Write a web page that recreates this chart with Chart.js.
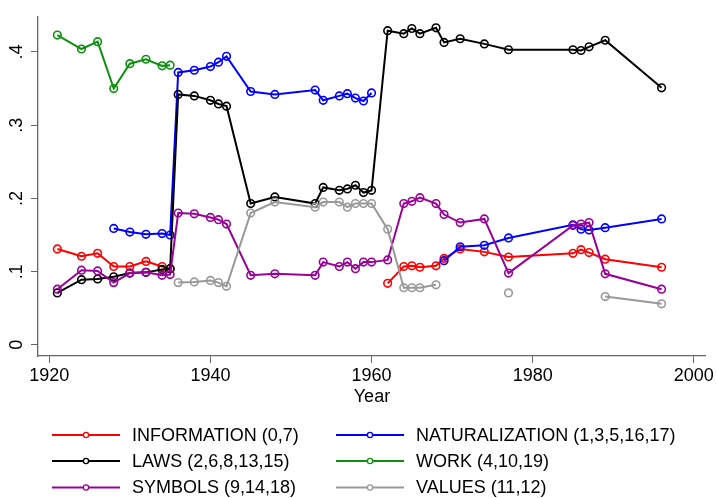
<!DOCTYPE html>
<html>
<head>
<meta charset="utf-8">
<script src="https://cdn.jsdelivr.net/npm/chart.js@4/dist/chart.umd.min.js"></script>
<style>
  html, body { margin: 0; padding: 0; background: #fff; }
  #wrap { width: 716px; height: 498px; position: relative; }
</style>
</head>
<body>
<div id="wrap"><canvas id="chart"></canvas></div>
<script>
/* Years on the x axis (one row per year, null = missing) */
const years = [1921, 1924, 1926, 1928, 1930, 1932, 1934, 1935, 1936, 1938, 1940, 1941, 1942,
    1945, 1948, 1953, 1954, 1956, 1957, 1958, 1959, 1960, 1962, 1964, 1965, 1966, 1968,
    1969, 1971, 1974, 1977, 1985, 1986, 1987, 1989, 1996];

const information = [0.131, 0.121, 0.125, 0.107, 0.107, 0.114, 0.107, 0.104,
    null, null, null, null, null, null, null, null, null, null, null, null, null, null,
    0.084, 0.107, 0.108, 0.106, 0.108,
    0.118, 0.131, 0.127, 0.120, 0.125, 0.130, 0.126, 0.117, 0.106];

const naturalization = [null, null, null, 0.159, 0.154, 0.151, 0.152, 0.150,
    0.372, 0.375, 0.380, 0.386, 0.394,
    0.346, 0.342, 0.348, 0.334, 0.340, 0.343, 0.337, 0.333, 0.344,
    null, null, null, null, null,
    0.115, 0.134, 0.136, 0.146, 0.164, 0.158, 0.157, 0.160, 0.172];

const laws = [0.071, 0.089, 0.090, 0.093, 0.098, 0.099, 0.103, 0.104,
    0.342, 0.340, 0.334, 0.329, 0.326,
    0.193, 0.202, 0.193, 0.215, 0.211, 0.213, 0.218, 0.208, 0.211,
    0.429, 0.425, 0.432, 0.425, 0.433,
    0.413, 0.418, 0.411, 0.403, 0.403, 0.402, 0.407, 0.416, 0.351];

const work = [0.423, 0.404, 0.414, 0.350, 0.384, 0.390, 0.381, 0.382,
    null, null, null, null, null, null, null, null, null, null, null, null, null, null,
    null, null, null, null, null, null, null, null, null, null, null, null, null, null];

const symbols = [0.076, 0.102, 0.101, 0.085, 0.098, 0.099, 0.095, 0.096,
    0.180, 0.179, 0.174, 0.171, 0.165,
    0.095, 0.097, 0.095, 0.113, 0.107, 0.113, 0.104, 0.113, 0.113,
    0.116, 0.193, 0.196, 0.201, 0.193,
    0.178, 0.167, 0.172, 0.098, 0.163, 0.165, 0.167, 0.097, 0.076];

const values = [null, null, null, null, null, null, null, null,
    0.085, 0.086, 0.088, 0.085, 0.080,
    0.180, 0.195, 0.188, 0.195, 0.195, 0.188, 0.193, 0.193, 0.193,
    0.158, 0.078, 0.078, 0.078, 0.082,
    null, null, null, 0.071, null, null, null, 0.066, 0.056];

const seriesLabels = ["INFORMATION (0,7)", "NATURALIZATION (1,3,5,16,17)", "LAWS (2,6,8,13,15)",
    "WORK (4,10,19)", "SYMBOLS (9,14,18)", "VALUES (11,12)"];
const seriesColors = ["#ff0000", "#0000ff", "#000000", "#0e900e", "#990099", "#999999"];

const xTicks = [1920, 1940, 1960, 1980, 2000];
const yTicks = [0, 0.1, 0.2, 0.3, 0.4];

const FONT = "'Liberation Sans', Arial, Helvetica, sans-serif";
const AXIS_COLOR = "#666";

/* Легенда: 2 колонки, 3 строки, под графиком */
const gridLegend = {
    id: "gridLegend",
    afterDraw(chart) {
        const ctx = chart.ctx;
        const base = chart.chartArea.bottom;
        const colX = [52, 336];
        const rowY = [base + 79, base + 105, base + 131.5];
        ctx.save();
        ctx.font = "18px " + FONT;
        ctx.textBaseline = "middle";
        ctx.textAlign = "left";
        chart.data.datasets.forEach((ds, i) => {
            const x = colX[i % 2];
            const y = rowY[Math.floor(i / 2)];
            ctx.strokeStyle = ds.borderColor;
            ctx.lineWidth = 2;
            ctx.beginPath();
            ctx.moveTo(x, y);
            ctx.lineTo(x + 68, y);
            ctx.stroke();
            ctx.fillStyle = "#fff";
            ctx.lineWidth = 1.3;
            ctx.beginPath();
            ctx.arc(x + 34, y, 2.6, 0, Math.PI * 2);
            ctx.fill();
            ctx.stroke();
            ctx.fillStyle = "#000";
            ctx.fillText(ds.label, x + 80, y + 1);
        });
        ctx.restore();
    }
};

const seriesData = [information, naturalization, laws, work, symbols, values];

const datasets = seriesData.map((arr, i) => ({
    label: seriesLabels[i],
    data: years.map((yr, j) => ({ x: yr, y: arr[j] })),
    borderColor: seriesColors[i],
    backgroundColor: seriesColors[i],
    borderWidth: 2,
    pointRadius: 3.8,
    pointBorderWidth: 1.6,
    pointBackgroundColor: "rgba(255,255,255,0)",
    pointBorderColor: seriesColors[i],
    spanGaps: false,
    tension: 0,
    order: seriesData.length - i
}));

new Chart(document.getElementById("chart"), {
    type: "line",
    data: { datasets: datasets },
    options: {
        responsive: true,
        maintainAspectRatio: false,
        animation: false,
        layout: { padding: { top: 12, right: 9, left: 0, bottom: 86 } },
        plugins: {
            legend: { display: false },
            tooltip: { enabled: false }
        },
        scales: {
            x: {
                type: "linear",
                min: 1918.6,
                max: 2001.5,
                afterBuildTicks: scale => { scale.ticks = xTicks.map(v => ({ value: v })); },
                afterFit: scale => { scale.height = 56; },
                ticks: {
                    color: "#000",
                    font: { family: FONT, size: 18 },
                    padding: 2,
                    maxRotation: 0,
                    callback: v => String(v)
                },
                grid: { display: true, drawOnChartArea: false, drawTicks: true, tickLength: 7, color: AXIS_COLOR, lineWidth: 1 },
                border: { display: true, color: AXIS_COLOR, width: 1.3 },
                title: {
                    display: true,
                    text: "Year",
                    color: "#000",
                    font: { family: FONT, size: 18 },
                    padding: { top: 0, bottom: 4 }
                }
            },
            y: {
                type: "linear",
                min: -0.0152,
                max: 0.448,
                afterBuildTicks: scale => { scale.ticks = yTicks.map(v => ({ value: v })); },
                afterFit: scale => { scale.width = 38; },
                ticks: {
                    color: "#000",
                    font: { family: FONT, size: 18 },
                    padding: 6,
                    minRotation: 90,
                    maxRotation: 90,
                    crossAlign: "center",
                    callback: v => (v === 0 ? "0" : String(Math.round(v * 10) / 10).replace(/^0/, ""))
                },
                grid: { display: true, drawOnChartArea: false, drawTicks: true, tickLength: 7, color: AXIS_COLOR, lineWidth: 1 },
                border: { display: true, color: AXIS_COLOR, width: 1.3 }
            }
        }
    },
    plugins: [gridLegend]
});
</script>
</body>
</html>
